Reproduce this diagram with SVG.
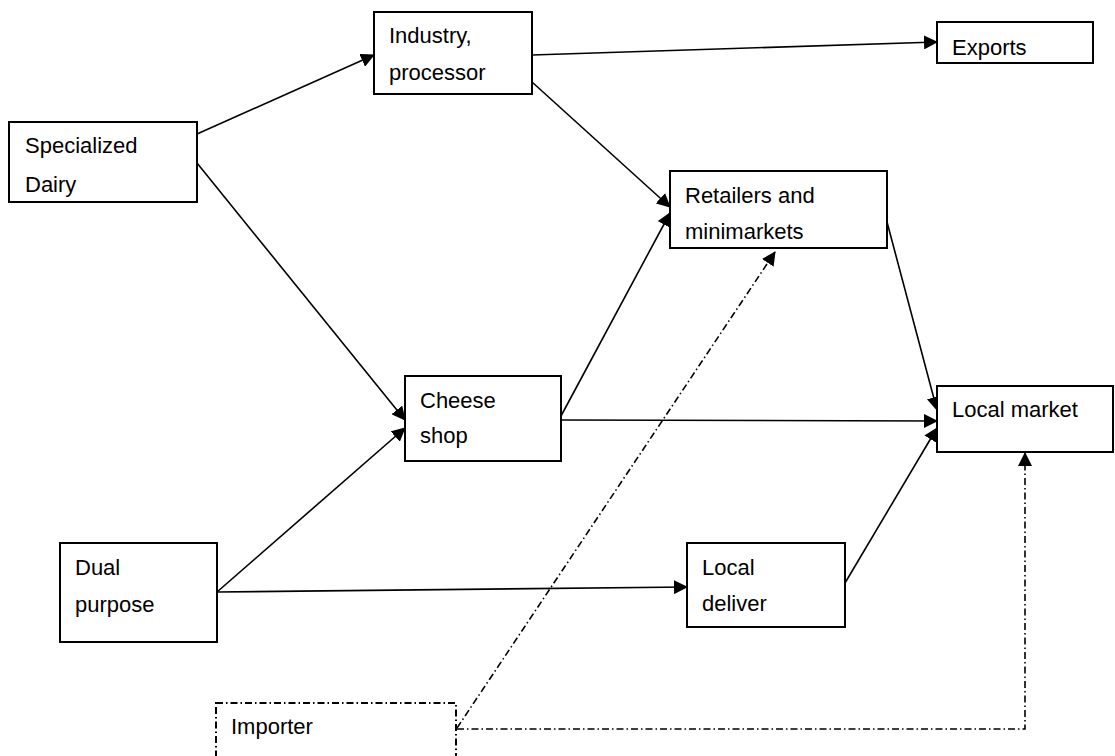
<svg xmlns="http://www.w3.org/2000/svg" width="1115" height="756" viewBox="0 0 1115 756">
<style>
.box{fill:#fff;stroke:#000;stroke-width:2}
.dbox{fill:#fff;stroke:#000;stroke-width:2;stroke-dasharray:7 3 1.5 3}
.t{font-family:"Liberation Sans",Arial,sans-serif;font-size:22px;fill:#000}
.c{fill:none;stroke:#000;stroke-width:1.6}
.d{fill:none;stroke:#000;stroke-width:1.6;stroke-dasharray:7 3 1.5 3}
</style>
<defs>
<marker id="ah" markerUnits="userSpaceOnUse" markerWidth="14" markerHeight="14" refX="13" refY="7" orient="auto">
<path d="M0,0 L14,7 L0,14 Z" fill="#000"/>
</marker>
</defs>
<rect width="1115" height="756" fill="#fff"/>
<g id="connectors">
<line class="c" x1="197" y1="134" x2="374" y2="55" marker-end="url(#ah)"/>
<line class="c" x1="197" y1="163" x2="405" y2="420" marker-end="url(#ah)"/>
<line class="c" x1="532" y1="55" x2="937" y2="42" marker-end="url(#ah)"/>
<line class="c" x1="532" y1="82" x2="670" y2="207" marker-end="url(#ah)"/>
<line class="c" x1="561" y1="416" x2="670" y2="213" marker-end="url(#ah)"/>
<line class="c" x1="561" y1="420" x2="937" y2="421" marker-end="url(#ah)"/>
<line class="c" x1="887" y1="222" x2="937" y2="410" marker-end="url(#ah)"/>
<line class="c" x1="217" y1="592" x2="405" y2="428" marker-end="url(#ah)"/>
<line class="c" x1="217" y1="592" x2="687" y2="587" marker-end="url(#ah)"/>
<line class="c" x1="845" y1="583" x2="937" y2="428" marker-end="url(#ah)"/>
<line class="d" x1="457" y1="728" x2="775" y2="252" marker-end="url(#ah)"/>
<polyline class="d" points="457,729 1025,729 1025,453" marker-end="url(#ah)"/>
</g>
<g id="specialized"><rect class="box" x="9" y="122" width="188" height="80"/><text class="t" x="25" y="153">Specialized</text><text class="t" x="25" y="192">Dairy</text></g>
<g id="industry"><rect class="box" x="374" y="12" width="158" height="82"/><text class="t" x="389" y="43">Industry,</text><text class="t" x="389" y="80">processor</text></g>
<g id="exports"><rect class="box" x="937" y="22" width="156" height="41"/><text class="t" x="952" y="55">Exports</text></g>
<g id="retailers"><rect class="box" x="670" y="171" width="217" height="77"/><text class="t" x="685" y="203">Retailers and</text><text class="t" x="685" y="239">minimarkets</text></g>
<g id="cheese"><rect class="box" x="405" y="376" width="156" height="85"/><text class="t" x="420" y="408">Cheese</text><text class="t" x="420" y="443">shop</text></g>
<g id="localmarket"><rect class="box" x="937" y="386" width="176" height="66"/><text class="t" x="952" y="417">Local market</text></g>
<g id="localdeliver"><rect class="box" x="687" y="543" width="158" height="84"/><text class="t" x="702" y="575">Local</text><text class="t" x="702" y="611">deliver</text></g>
<g id="dual"><rect class="box" x="60" y="543" width="157" height="99"/><text class="t" x="75" y="575">Dual</text><text class="t" x="75" y="612">purpose</text></g>
<g id="importer"><rect class="dbox" x="216" y="703" width="240" height="70"/><text class="t" x="231" y="734">Importer</text></g>
</svg>
